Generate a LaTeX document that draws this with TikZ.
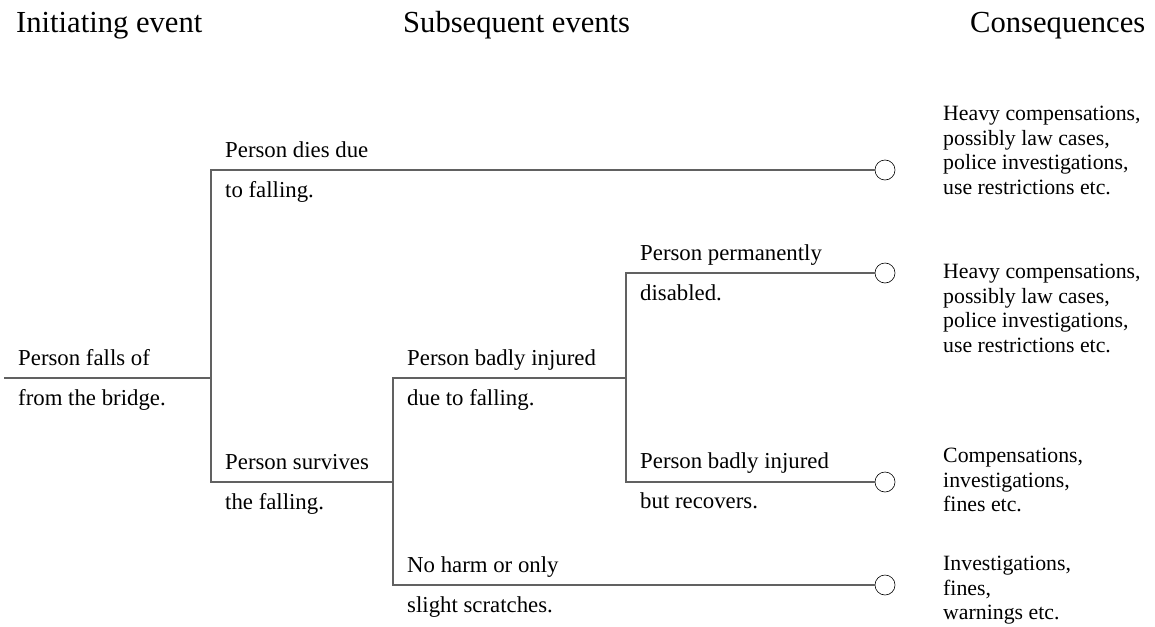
\documentclass[tikz,border=0pt]{standalone}
\usepackage{fontspec}
\setmainfont{Liberation Serif}
\usetikzlibrary{positioning}

\begin{document}
\begin{tikzpicture}[x=1pt,y=-1pt,
		branch/.style={draw=black!62, line width=1.2pt},
		leaf/.style={circle, draw=black, fill=white, line width=0.6pt, minimum size=20pt, inner sep=0pt},
		lbl/.style={anchor=base west, inner sep=0pt, font=\fontsize{22.8}{27}\selectfont},
		head/.style={anchor=base west, inner sep=0pt, font=\fontsize{30.6}{36}\selectfont},
		cons/.style={anchor=north west, inner sep=0pt, align=left, font=\fontsize{21.8}{24.5}\selectfont}]
		\useasboundingbox (0,0) rectangle (1155,626);
		
		\node[head] (hinit) at (16,33) {Initiating event};
		\node[head] (hsub) at (403,33) {Subsequent events};
		\node[head] (hcons) at (970,33) {Consequences};
		
		% junctions and outcomes
		\coordinate (start) at (4,378);
		\coordinate (j1) at (211,378);
		\coordinate (j2) at (393,482);
		\coordinate (j3) at (626,378);
		\node[leaf] (e1) at (885,170) {};
		\node[leaf] (e2) at (885,273) {};
		\node[leaf] (e3) at (885,482) {};
		\node[leaf] (e4) at (885,585) {};
		
		\draw[branch] (start) -- (j1);
		\draw[branch] (j1) |- (e1);
		\draw[branch] (j1) |- (j2);
		\draw[branch] (j2) |- (j3);
		\draw[branch] (j2) |- (e4);
		\draw[branch] (j3) |- (e2);
		\draw[branch] (j3) |- (e3);
		
		\node[lbl] (fa) at (18,365) {Person falls of};
		\node[lbl] (fb) at (18,405) {from the bridge.};
		\node[lbl] (da) at (225,157) {Person dies due};
		\node[lbl] (db) at (225,197) {to falling.};
		\node[lbl] (sa) at (225,469) {Person survives};
		\node[lbl] (sb) at (225,509) {the falling.};
		\node[lbl] (ia) at (407,365) {Person badly injured};
		\node[lbl] (ib) at (407,405) {due to falling.};
		\node[lbl] (na) at (407,572) {No harm or only};
		\node[lbl] (nb) at (407,612) {slight scratches.};
		\node[lbl] (pa) at (640,260) {Person permanently};
		\node[lbl] (pb) at (640,300) {disabled.};
		\node[lbl] (ra) at (640,468) {Person badly injured};
		\node[lbl] (rb) at (640,508) {but recovers.};
		
		\node[cons] (c1) at (943,106) {Heavy compensations,\\possibly law cases,\\police investigations,\\use restrictions etc.};
		\node[cons] (c2) at (943,264) {Heavy compensations,\\possibly law cases,\\police investigations,\\use restrictions etc.};
		\node[cons] (c3) at (943,448) {Compensations,\\investigations,\\fines etc.};
		\node[cons] (c4) at (943,556) {Investigations,\\fines,\\warnings etc.};
	\end{tikzpicture}
\end{document}
